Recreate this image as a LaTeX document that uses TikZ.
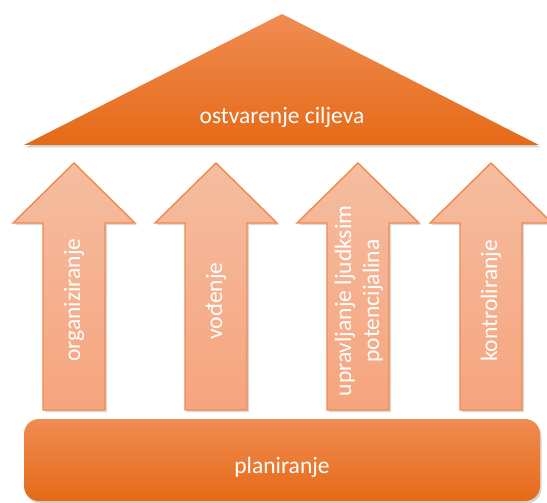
\documentclass[tikz,border=0pt]{standalone}
\usepackage{fontspec}
\setmainfont{Carlito}
\usetikzlibrary{shadows}
\definecolor{orTop}{HTML}{F08C52}
\definecolor{orMid}{HTML}{F47D2D}
\definecolor{orBot}{HTML}{E56A17}
\definecolor{arTop}{HTML}{F5BDA0}
\definecolor{arBot}{HTML}{F6A47E}
\definecolor{arEdge}{HTML}{EF8A4D}
\tikzset{
  bigshape/.style={top color=orTop, middle color=orMid, bottom color=orBot,
    drop shadow={opacity=0.35, shadow xshift=1.5pt, shadow yshift=-2.5pt}},
  pillar/.style={draw=arEdge, line width=1.4pt, line join=miter,
    top color=arTop, bottom color=arBot,
    drop shadow={opacity=0.3, shadow xshift=2pt, shadow yshift=-2pt}},
  lbl/.style={text=white, font=\fontsize{23.5}{28}\selectfont, inner sep=0pt},
  vlbl/.style={lbl, rotate=90, align=center},
}
\begin{document}
\begin{tikzpicture}[x=1pt,y=-1pt]
\useasboundingbox (0,0) rectangle (547,503);
% roof
\path[bigshape] (24,145) -- (282,14) -- (539,145) -- cycle;
\node[lbl, anchor=base] (roof) at (282,124) {ostvarenje ciljeva};
% pillars
\foreach \cx/\nm in {74/p1, 216/p2, 358/p3, 491/p4}{
  \path[pillar] (\cx,163) -- (\cx+61,223) -- (\cx+31,223) -- (\cx+31,410)
     -- (\cx-31,410) -- (\cx-31,223) -- (\cx-61,223) -- cycle;
}
\node[vlbl] (t1) at (74,300) {organiziranje};
\node[vlbl] (t2) at (216,301) {vođenje};
\node[vlbl] (t3) at (359,301) {upravljanje ljudksim\\potencijalina};
\node[vlbl] (t4) at (491,301) {kontroliranje};
% base
\path[bigshape, rounded corners=15pt] (24,419) rectangle (540,501);
\node[lbl, anchor=base] (base) at (282,473) {planiranje};
\end{tikzpicture}
\end{document}
